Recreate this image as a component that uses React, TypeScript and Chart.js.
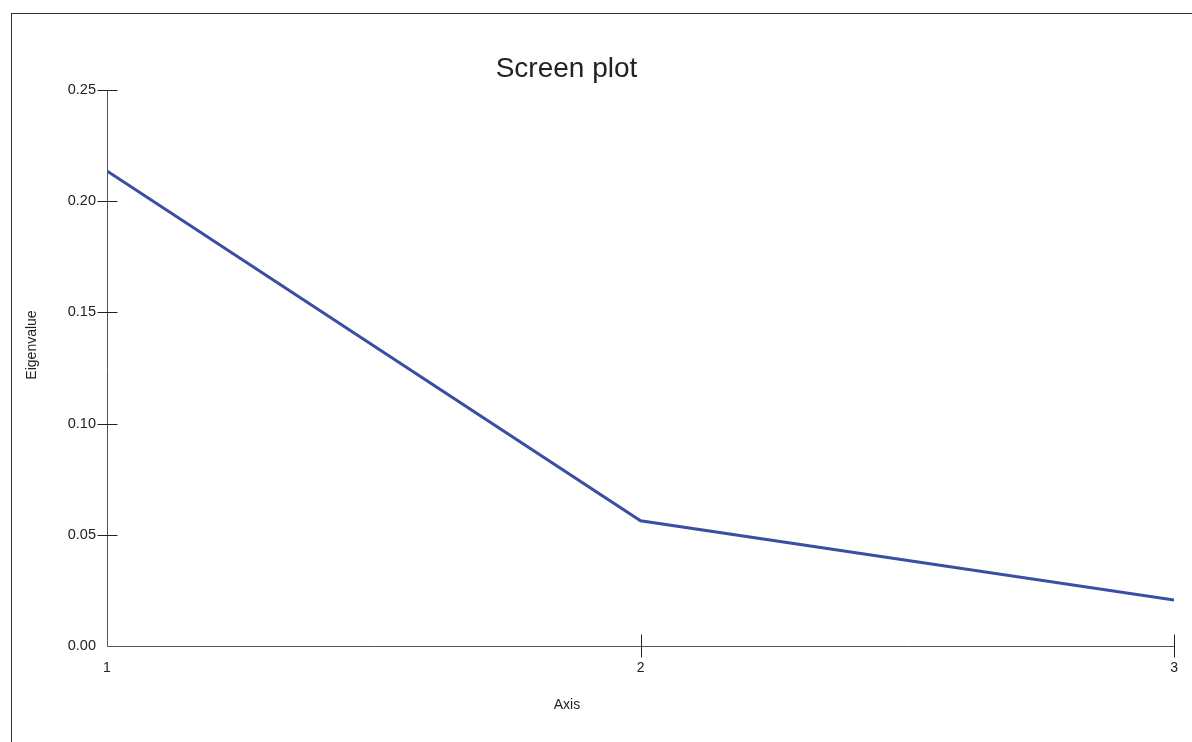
import React, { useEffect, useRef } from "react";
import { Chart, registerables } from "chart.js";

Chart.register(...registerables);

const axisNumbers = [1, 2, 3];
const eigenvalues = [0.2136, 0.0563, 0.0207];
const yTickValues = [0, 0.05, 0.1, 0.15, 0.2, 0.25];
const titleText = "Screen plot";
const xTitleText = "Axis";
const yTitleText = "Eigenvalue";

const FONT = "'Liberation Sans', Arial, sans-serif";

const decorPlugin = {
  id: "decor",
  afterDraw(chart: any) {
    const { ctx, chartArea, scales } = chart;
    const xs = scales.x;
    const ys = scales.y;
    ctx.save();
    ctx.strokeStyle = "#555";
    ctx.lineWidth = 1;
    ctx.beginPath();
    const ax = Math.round(chartArea.left) + 0.5;
    const ay = Math.round(chartArea.bottom) + 0.5;
    ctx.moveTo(ax, Math.round(chartArea.top));
    ctx.lineTo(ax, ay);
    ctx.lineTo(Math.round(chartArea.right) + 0.5, ay);
    ctx.stroke();
    ctx.strokeStyle = "#222";
    ctx.beginPath();
    yTickValues.forEach((v) => {
      if (v === 0) return;
      const py = Math.round(ys.getPixelForValue(v)) + 0.5;
      ctx.moveTo(ax - 10, py);
      ctx.lineTo(ax + 10, py);
    });
    axisNumbers.forEach((v) => {
      if (v === axisNumbers[0]) return;
      const px = Math.round(xs.getPixelForValue(v)) + 0.5;
      ctx.moveTo(px, ay - 12);
      ctx.lineTo(px, ay + 11);
    });
    ctx.stroke();
    ctx.fillStyle = "#222";
    ctx.textAlign = "center";
    ctx.textBaseline = "alphabetic";
    ctx.font = `28px ${FONT}`;
    ctx.fillText(titleText, 566.5, 77);
    ctx.font = `14px ${FONT}`;
    ctx.textBaseline = "middle";
    ctx.fillText(xTitleText, 567, 705);
    ctx.translate(32, 345);
    ctx.rotate(-Math.PI / 2);
    ctx.fillText(yTitleText, 0, 0);
    ctx.restore();
  },
};

export default function App() {
  const ref = useRef<HTMLCanvasElement>(null);
  useEffect(() => {
    if (!ref.current) return;
    const chart = new Chart(ref.current, {
      type: "line",
      data: {
        datasets: [
          {
            data: axisNumbers.map((x, i) => ({ x, y: eigenvalues[i] })),
            borderColor: "#3a4ea2",
            borderWidth: 3,
            pointRadius: 0,
            fill: false,
            tension: 0,
          },
        ],
      },
      options: {
        animation: false,
        responsive: false,
        events: [],
        layout: { padding: { left: 0, top: 90, right: 17, bottom: 0 } },
        plugins: { legend: { display: false }, tooltip: { enabled: false }, title: { display: false } },
        scales: {
          x: {
            type: "linear",
            min: 1,
            max: 3,
            afterFit: (s: any) => {
              s.height = 742 - 646;
            },
            afterBuildTicks: (s: any) => {
              s.ticks = axisNumbers.map((v) => ({ value: v }));
            },
            grid: { display: false, drawTicks: false },
            border: { display: false },
            ticks: {
              padding: 14,
              color: "#222",
              font: { family: FONT, size: 14 },
              maxRotation: 0,
              autoSkip: false,
              callback: (v: any) => String(v),
            },
          },
          y: {
            type: "linear",
            min: 0,
            max: 0.25,
            afterFit: (s: any) => {
              s.width = 107;
            },
            afterBuildTicks: (s: any) => {
              s.ticks = yTickValues.map((v) => ({ value: v }));
            },
            grid: { display: false, drawTicks: false },
            border: { display: false },
            ticks: {
              padding: 11,
              color: "#222",
              font: { family: FONT, size: 14.5 },
              callback: (v: any) => Number(v).toFixed(2),
            },
          },
        },
      },
      plugins: [decorPlugin],
    });
    return () => chart.destroy();
  }, []);
  return (
    <div style={{ position: "fixed", left: 0, top: 0, width: 1192, height: 742, overflow: "hidden", background: "#fff" }}>
      <div
        style={{
          position: "absolute",
          left: 11,
          top: 13,
          width: 2000,
          height: 2000,
          borderTop: "1px solid #333",
          borderLeft: "1px solid #333",
        }}
      />
      <canvas ref={ref} width={1192} height={742} style={{ position: "absolute", left: 0, top: 0, width: 1192, height: 742 }} />
    </div>
  );
}
